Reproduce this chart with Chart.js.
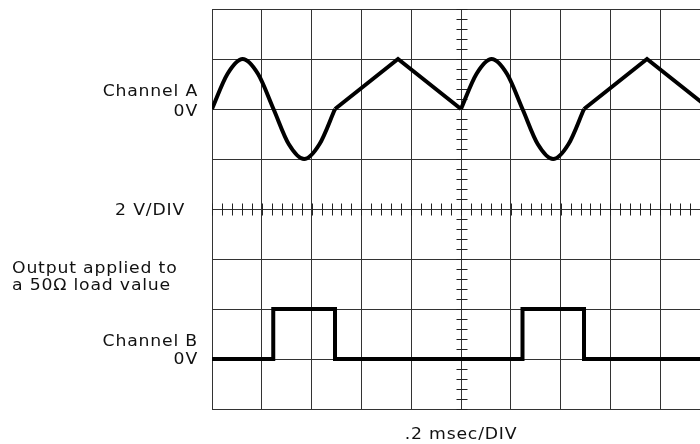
<!DOCTYPE html>
<html>
<head>
<meta charset="utf-8">
<script src="https://cdn.jsdelivr.net/npm/chart.js@4.4.1/dist/chart.umd.min.js"></script>
<style>
  html, body { margin: 0; padding: 0; background: #fff; overflow: hidden; }
  #wrap { position: relative; width: 700px; height: 444px; overflow: hidden; }
  canvas { position: absolute; left: 0; top: 0; }
</style>
</head>
<body>
<div id="wrap"><canvas id="scope" width="720" height="444"></canvas></div>
<script>
// Sweep: .2 msec/DIV over 10 divisions, 2 V/DIV
const sweepMs = [0, 2.0];
const divMs = 0.2;
const voltsPerDiv = 2;

// Channel A - sine part of each sweep (null = gap)
const sineMs    = [0, 0.062, 0.123, 0.185, 0.247, 0.308, 0.370, 0.432, 0.494, 0.75, 1.0, 1.062, 1.123, 1.185, 1.247, 1.308, 1.370, 1.432, 1.494];
const sineVolts = [0, 1.4, 2, 1.4, 0, -1.4, -2, -1.4, 0, null, 0, 1.4, 2, 1.4, 0, -1.4, -2, -1.4, 0];

// Channel A - ramp part of each sweep
const rampMs    = [0.494, 0.747, 1.0, 1.25, 1.494, 1.747, 2.0];
const rampVolts = [0, 2, 0, null, 0, 2, 0];

// Channel B - pulse into 50 ohm load
const pulseMs    = [0, 0.246, 0.494, 1.247, 1.494, 2.0];
const pulseVolts = [0, 2, 0, 2, 0, 0];

// Labels
const chALabels = ['Channel A', '0V'];
const chBLabels = ['Channel B', '0V'];
const noteLines = ['Output applied to', 'a 50\u03A9 load value'];
const vDivLabel = '2 V/DIV';
const hDivLabel = '.2 msec/DIV';

const toPoints = (xs, ys) => xs.map((x, i) => ({ x: x, y: ys[i] }));

// plotter-style wide text
function wideText(ctx, text, x, y, align) {
  const sx = 1.15;
  ctx.save();
  ctx.translate(x, y);
  ctx.scale(sx, 1);
  ctx.textAlign = align;
  ctx.fillText(text, 0, 0);
  ctx.restore();
}

const scopePlugin = {
  id: 'scope',
  beforeDatasetsDraw(chart) {
    // minor ticks on the centre cross
    const { ctx, scales } = chart;
    const cx = Math.round(scales.x.getPixelForValue(1.0)) + 0.5;
    const cy = Math.round(scales.yA.getPixelForValue(-4)) + 0.5;
    ctx.save();
    ctx.strokeStyle = '#222';
    ctx.lineWidth = 1;
    ctx.beginPath();
    for (let i = 0; i <= 50; i++) {
      const px = Math.round(scales.x.getPixelForValue(i * divMs / 5)) + 0.5;
      ctx.moveTo(px, cy - 6);
      ctx.lineTo(px, cy + 6);
    }
    for (let j = 0; j <= 40; j++) {
      const py = Math.round(scales.yA.getPixelForValue(-12 + j * voltsPerDiv / 5)) + 0.5;
      ctx.moveTo(cx - 5, py);
      ctx.lineTo(cx + 6, py);
    }
    ctx.stroke();
    ctx.restore();
  },
  afterDraw(chart) {
    const { ctx, chartArea: a, scales } = chart;
    const zeroA = scales.yA.getPixelForValue(0);
    const zeroB = scales.yB.getPixelForValue(0);
    const mid = scales.yA.getPixelForValue(-4);
    const rx = a.left - 15;
    ctx.save();
    ctx.fillStyle = '#111';
    ctx.font = '15px "DejaVu Sans"';
    ctx.letterSpacing = '0.7px';
    ctx.textBaseline = 'alphabetic';
    wideText(ctx, chALabels[0], rx + 1, zeroA - 13, 'right');
    wideText(ctx, chALabels[1], rx + 1, zeroA + 7, 'right');
    wideText(ctx, vDivLabel, rx - 12, mid + 6, 'right');
    wideText(ctx, chBLabels[0], rx + 1, zeroB - 13, 'right');
    wideText(ctx, chBLabels[1], rx + 1, zeroB + 5, 'right');
    wideText(ctx, noteLines[0], 12, zeroB - 86, 'left');
    wideText(ctx, noteLines[1], 12, zeroB - 69, 'left');
    wideText(ctx, hDivLabel, scales.x.getPixelForValue(1.0), a.bottom + 30, 'center');
    ctx.restore();
  }
};

const lineStyle = {
  borderColor: '#000',
  borderWidth: 4,
  pointRadius: 0,
  pointHoverRadius: 0,
  spanGaps: false,
  fill: false
};

new Chart(document.getElementById('scope'), {
  type: 'line',
  data: {
    datasets: [
      Object.assign({ label: 'Channel A', data: toPoints(sineMs, sineVolts), yAxisID: 'yA', cubicInterpolationMode: 'monotone' }, lineStyle),
      Object.assign({ label: 'Channel A ramp', data: toPoints(rampMs, rampVolts), yAxisID: 'yA', tension: 0 }, lineStyle),
      Object.assign({ label: 'Channel B', data: toPoints(pulseMs, pulseVolts), yAxisID: 'yB', stepped: 'before', borderJoinStyle: 'miter' }, lineStyle)
    ]
  },
  options: {
    responsive: false,
    animation: false,
    events: [],
    layout: { padding: { left: 212, top: 9, right: 10, bottom: 35 } },
    plugins: { legend: { display: false }, tooltip: { enabled: false } },
    scales: {
      x: {
        type: 'linear', min: sweepMs[0], max: sweepMs[1],
        ticks: { display: false, stepSize: divMs },
        grid: { color: '#333', drawTicks: false },
        border: { color: '#333' }
      },
      yA: {
        type: 'linear', position: 'left', min: -12, max: 4,
        ticks: { display: false, stepSize: voltsPerDiv },
        grid: { color: '#333', drawTicks: false },
        border: { color: '#333' }
      },
      yB: { type: 'linear', position: 'left', display: false, min: -2, max: 14 }
    }
  },
  plugins: [scopePlugin]
});
</script>
</body>
</html>
